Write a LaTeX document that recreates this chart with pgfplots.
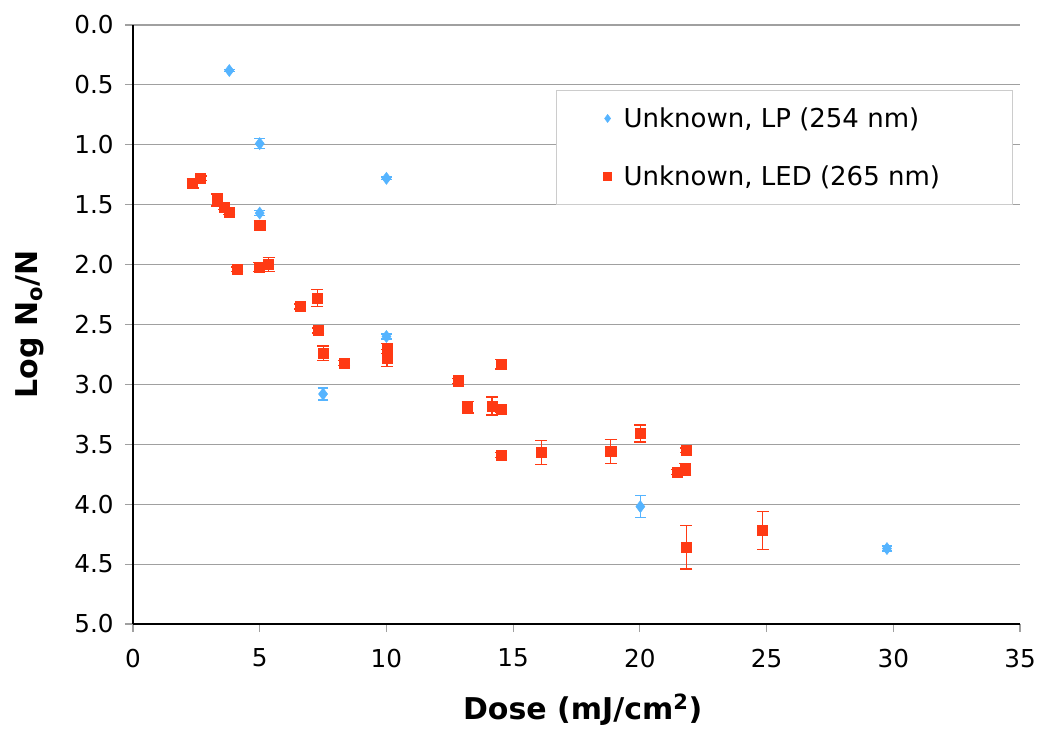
\documentclass[border=0pt]{standalone}
\usepackage{pgfplots}
\pgfplotsset{compat=1.18}
\usepackage{pgfplotstable}
\usepackage{fontspec}
\setmainfont{DejaVu Sans}
\definecolor{lpblue}{RGB}{85,180,255}
\definecolor{ledred}{RGB}{255,58,20}
\definecolor{gridgray}{RGB}{160,160,160}

\pgfplotstableread{
x y e
3.80 0.38 0.01
5.00 0.99 0.04
10.00 1.28 0.01
5.00 1.57 0.02
10.00 2.60 0.02
7.50 3.08 0.05
20.02 4.02 0.09
29.75 4.37 0.02
}\lpdata

\pgfplotstableread{
x y e
2.35 1.32 0.04
2.67 1.28 0.02
3.31 1.46 0.05
3.60 1.52 0.02
3.80 1.56 0.02
5.00 1.67 0.04
4.12 2.04 0.02
4.98 2.02 0.04
5.35 2.00 0.06
6.59 2.35 0.02
7.27 2.28 0.07
7.31 2.55 0.02
7.51 2.74 0.06
8.33 2.82 0.02
10.02 2.70 0.04
10.02 2.78 0.07
12.83 2.97 0.02
13.20 3.19 0.05
14.17 3.18 0.075
14.53 2.83 0.04
14.53 3.21 0.02
14.52 3.59 0.02
16.11 3.57 0.10
18.85 3.56 0.10
20.02 3.41 0.07
21.82 3.55 0.02
21.48 3.73 0.02
21.80 3.71 0.05
21.84 4.36 0.18
24.84 4.22 0.16
}\leddata

\begin{document}
\begin{tikzpicture}
\begin{axis}[
  name=ax, at={(0,0)}, anchor=south west,
  scale only axis, width=665.25pt, height=449.25pt,
  xmin=0, xmax=35, ymin=0, ymax=5, y dir=reverse,
  xtick={0,5,...,35}, ytick={0,0.5,...,5},
  axis x line*=bottom, axis y line*=left,
  axis line style={line width=1.4pt, black},
  ymajorgrids, grid style={draw=gridgray, line width=0.8pt},
  tick align=outside, major tick length=6pt,
  tick style={gridgray, line width=0.8pt},
  tick label style={font=\fontsize{18.5}{22}\selectfont},
  /pgf/number format/assume math mode=true,
  yticklabel style={/pgf/number format/fixed, /pgf/number format/fixed zerofill, /pgf/number format/precision=1, xshift=-5pt},
  xticklabel style={yshift=-9pt},
  xlabel={\bfseries Dose (mJ/cm\textsuperscript{2})},
  ylabel={\bfseries Log N\textsubscript{o}/N},
  label style={font=\fontsize{22.5}{26}\selectfont},
  xlabel style={at={(axis description cs:0.507,-0.1436)}, anchor=center},
  ylabel style={at={(axis description cs:-0.1158,0.5)}, anchor=center, rotate=0},
  legend style={at={(axis description cs:0.4769,0.8915)}, anchor=north west,
    draw=gray!40, fill=white, font=\fontsize{19.5}{23}\selectfont,
    inner xsep=35.5pt, inner ysep=11pt, row sep=23pt,
    /tikz/every odd column/.append style={column sep=7pt}},
  legend cell align=left,
  legend image post style={mark size=3pt},
]
\addplot[only marks, mark=diamond*, mark size=4.5pt, color=lpblue,
  error bars/.cd, y dir=both, y explicit,
  error bar style={line width=1pt, lpblue},
  error mark options={rotate=90, mark size=4pt, line width=1pt, lpblue}]
  table[x=x, y=y, y error=e]{\lpdata};
\addlegendentry{\makebox[254pt][l]{Unknown, LP (254 nm)}}
\addplot[only marks, mark=square*, mark size=3.8pt, color=ledred,
  error bars/.cd, y dir=both, y explicit,
  error bar style={line width=1pt, ledred},
  error mark options={rotate=90, mark size=4.5pt, line width=1pt, ledred}]
  table[x=x, y=y, y error=e]{\leddata};
\addlegendentry{\makebox[254pt][l]{Unknown, LED (265 nm)}}
\end{axis}
\path ([shift={(-99.75pt,-76.5pt)}]ax.south west) rectangle ([shift={(15.75pt,18.75pt)}]ax.north east);
\end{tikzpicture}
\end{document}
